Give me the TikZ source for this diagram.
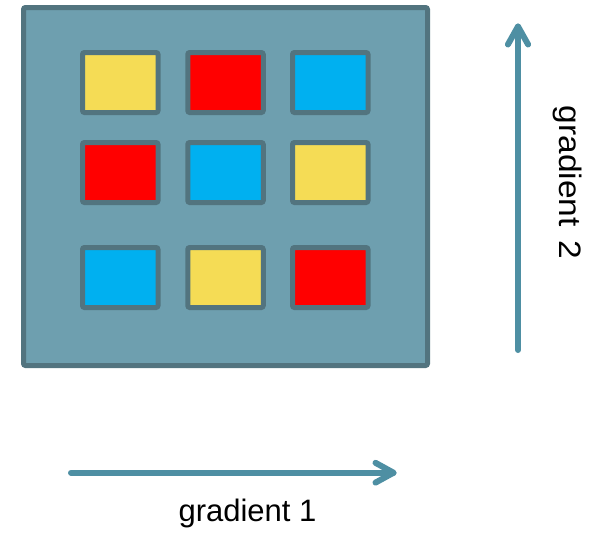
\documentclass[tikz,border=0pt]{standalone}
\usepackage{fontspec}
\setmainfont{Liberation Sans}
\definecolor{panelfill}{HTML}{6E9FAF}
\definecolor{panelline}{HTML}{52747F}
\definecolor{cyellow}{HTML}{F5DC55}
\definecolor{cred}{HTML}{FF0000}
\definecolor{cblue}{HTML}{00B0F0}
\definecolor{arrowcol}{HTML}{4E8FA3}
\tikzset{
  panel/.style={draw=panelline, fill=panelfill, line width=5pt, rounded corners=2pt},
  cell/.style={draw=panelline, line width=5pt, rounded corners=2pt, minimum width=75.5pt, minimum height=60pt, inner sep=0pt, anchor=center},
  grad/.style={draw=arrowcol, line width=6pt, line cap=round, line join=round},
  lbl/.style={font=\fontsize{31}{31}\selectfont, inner sep=0pt, text=black}
}
\begin{document}
\begin{tikzpicture}[x=1pt,y=-1pt]
\useasboundingbox (0,0) rectangle (593,536);
\draw[panel] (23.5,7.5) rectangle (427.5,365.5);
% row 1
\node[cell, fill=cyellow] (c11) at (120.25,82.5) {};
\node[cell, fill=cred]    (c12) at (225.5,82.5) {};
\node[cell, fill=cblue]   (c13) at (330.25,82.5) {};
% row 2
\node[cell, fill=cred]    (c21) at (120.25,172.5) {};
\node[cell, fill=cblue]   (c22) at (225.5,172.5) {};
\node[cell, fill=cyellow] (c23) at (330.25,172.5) {};
% row 3
\node[cell, fill=cblue]   (c31) at (120.25,277.5) {};
\node[cell, fill=cyellow] (c32) at (225.5,277.5) {};
\node[cell, fill=cred]    (c33) at (330.25,277.5) {};
% gradient 1 arrow
\coordinate (h0) at (71,472.7);
\coordinate (h1) at (393.5,472.7);
\coordinate (hw1) at (375.5,462.8);
\coordinate (hw2) at (375.5,482.6);
\draw[grad] (h0) -- (h1);
\draw[grad] (hw1) -- (h1) -- (hw2);
% gradient 2 arrow
\coordinate (v0) at (518,350);
\coordinate (v1) at (518,26.5);
\coordinate (vw1) at (507.9,44.5);
\coordinate (vw2) at (528.1,44.5);
\draw[grad] (v0) -- (v1);
\draw[grad] (vw1) -- (v1) -- (vw2);
% labels
\node[lbl] (g1) at (247.5,513) {gradient 1};
\node[lbl, rotate=-90, xscale=1.08] (g2) at (567.5,182.5) {gradient\hspace{13pt}2};
\end{tikzpicture}
\end{document}
